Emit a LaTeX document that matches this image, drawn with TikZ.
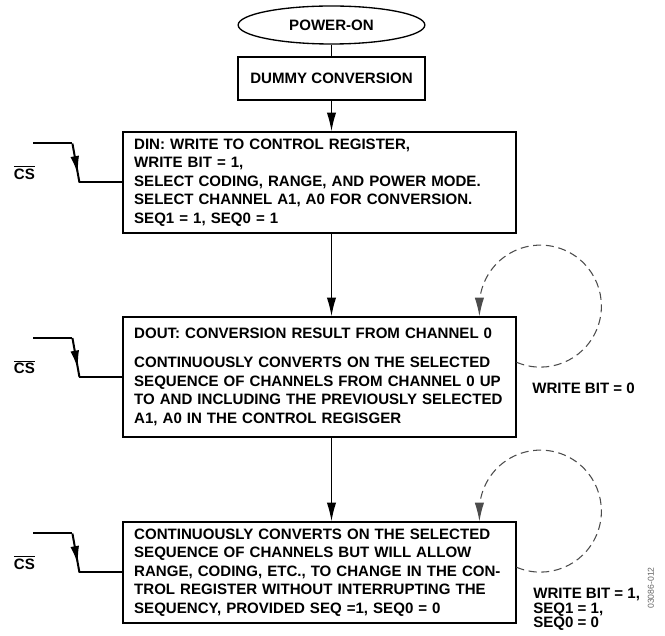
\documentclass[tikz,border=0pt]{standalone}
\usepackage{fontspec}
\setmainfont{Liberation Sans}
\usepackage{tikz}
\usetikzlibrary{arrows.meta, shapes.geometric, calc}
\usetikzlibrary{decorations.markings}
\tikzstyle{flowbox}=[rectangle, draw, line width=1.1pt, align=left, text width=278pt, inner xsep=8.25pt, inner ysep=0pt]
\tikzstyle{startbox}=[ellipse, draw, line width=1pt, minimum width=140pt, minimum height=28.5pt, inner sep=0pt]
\tikzstyle{csline}=[line width=1.5pt]
\newcommand{\flowbox}{\node[flowbox]}
\newcommand{\cslabel}{$\overline{\mbox{CS}}$}

\begin{document}
\begin{tikzpicture}[x=0.75pt, y=0.75pt,
        font=\fontsize{11.3}{13.9}\selectfont\bfseries,
        flow/.style={draw, line width=0.9pt, -{Latex[length=14pt, width=7pt]}},
        csedge/.style={csline,
                postaction={decorate,
                            decoration={markings, mark=at position 0.8 with {\arrow{Latex[length=14pt, width=6.5pt]}}}
                           }
                },
        selfloop/.style={draw=black!70, line width=0.8pt, dash pattern=on 6pt off 3.5pt,
                -{Latex[length=14pt, width=7pt]}}
    ]
    \useasboundingbox (0,0) rectangle (665,636);

    \node[startbox] (pwr) at (331.5,611) {POWER-ON};
    \node[draw, line width=1.1pt, minimum width=140pt, minimum height=32pt] (dummy) at (331.5,557.5) {DUMMY CONVERSION};

    \flowbox[minimum height=75.75pt] (din) at (319.5,453.5) {DIN: WRITE TO CONTROL REGISTER,\\
        WRITE BIT = 1,\\
        SELECT CODING, RANGE, AND POWER MODE.\\
        SELECT CHANNEL A1, A0 FOR CONVERSION.\\
        SEQ1 = 1, SEQ0 = 1};
    \flowbox[minimum height=90pt] (dout) at (319.5,259) {DOUT: CONVERSION RESULT FROM CHANNEL 0\\[8pt]
        CONTINUOUSLY CONVERTS ON THE SELECTED\\
        SEQUENCE OF CHANNELS FROM CHANNEL 0 UP\\
        TO AND INCLUDING THE PREVIOUSLY SELECTED\\
        A1, A0 IN THE CONTROL REGISGER};
    \flowbox[minimum height=75.75pt] (seq) at (319.5,63.5) {CONTINUOUSLY CONVERTS ON THE SELECTED\\
        SEQUENCE OF CHANNELS BUT WILL ALLOW\\
        RANGE, CODING, ETC., TO CHANGE IN THE CON-\\
        TROL REGISTER WITHOUT INTERRUPTING THE\\
        SEQUENCY, PROVIDED SEQ =1, SEQ0 = 0};

    % main flow
    \draw[line width=0.9pt] (pwr) -- (dummy);
    \draw[flow] (dummy) -- (dummy |- din.north);
    \draw[flow] (din.south -| dummy) -- (dummy |- dout.north);
    \draw[flow] (dout.south -| dummy) -- (dummy |- seq.north);

    % chip select edges
    \foreach \b in {din, dout, seq} {
        \coordinate (\b hi) at ($(\b.west)+(-89,39)$);
        \coordinate (\b fa) at ($(\b.west)+(-50,39)$);
        \coordinate (\b lo) at ($(\b.west)+(-43,0)$);
        \draw[csline] (\b hi) -- (\b fa);
        \draw[csedge] (\b fa) -- (\b lo);
        \draw[csline] (\b lo) -- (\b.west);
        \node (\b cs) at ($(\b.west)+(-98,10)$) {\cslabel};
    }

    % self loops
    \foreach \b in {dout, seq} {
        \draw[selfloop] ($(\b.north east)+(0,-46)$) arc[start angle=-113, end angle=180, radius=61] -- ++(0,-10.2);
    }
    \node[anchor=west] (wb0) at ($(dout.east)+(11,-11)$) {WRITE BIT = 0};
    \node[anchor=west, align=left, font=\fontsize{11.3}{11}\selectfont\bfseries] (wb1) at ($(seq.east)+(12,-37)$) {WRITE BIT = 1,\\ SEQ1 = 1,\\ SEQ0 = 0};

    \node[rotate=90, text=black!60, font=\fontsize{6.5}{7}\selectfont] (fig) at (651,48) {03086-012};
\end{tikzpicture}
\end{document}
